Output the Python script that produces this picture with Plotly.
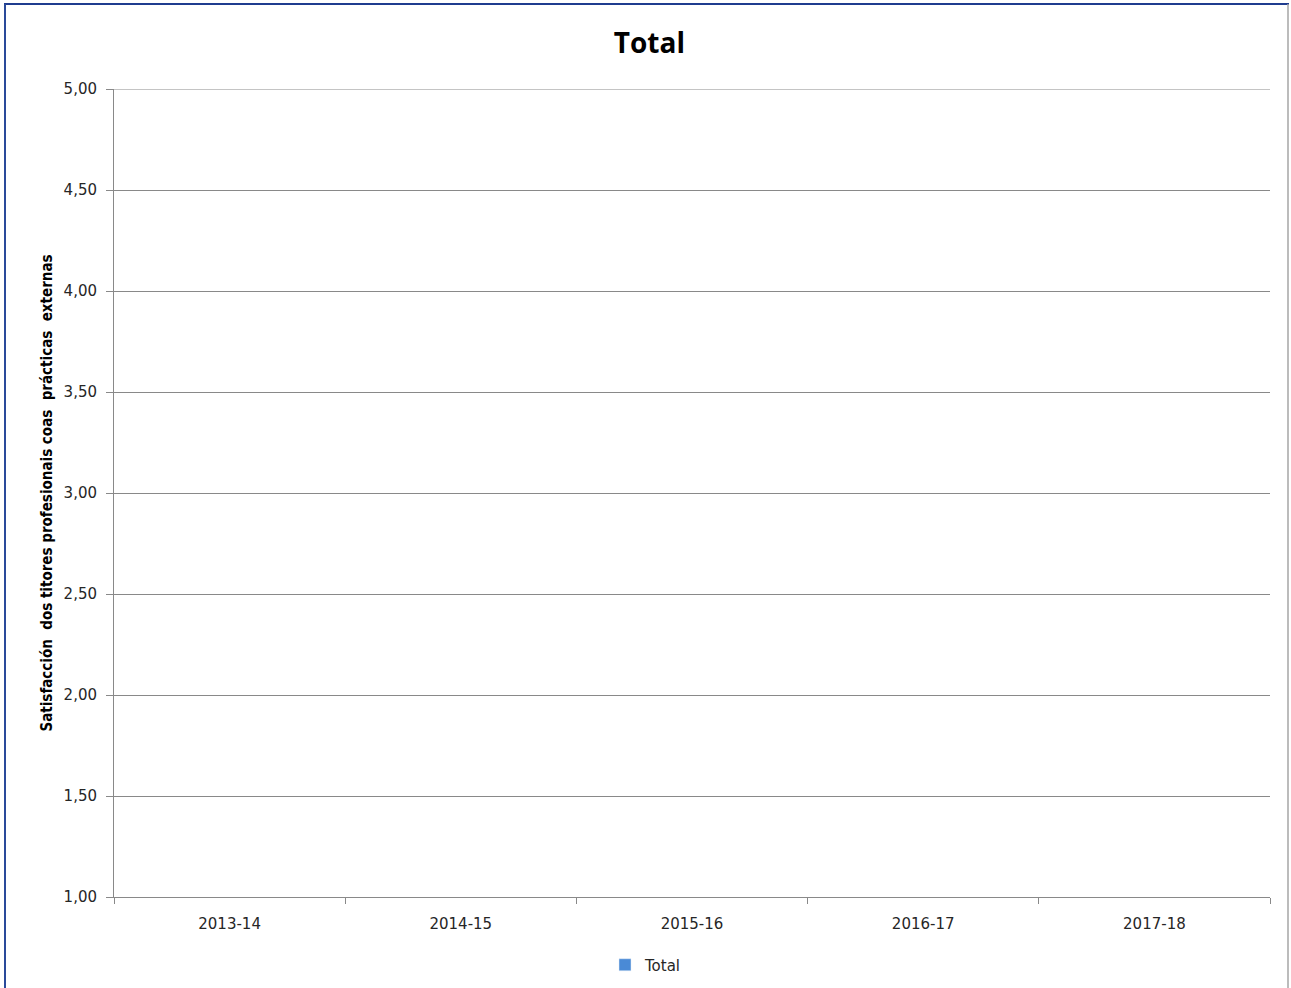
#!/usr/bin/env python
# coding: utf-8

### 라이브러리 호출
import plotly.graph_objects as go

### 데이터 (차트에 막대가 보이지 않음 -> 값 없음)
cursos = ['2013-14', '2014-15', '2015-16', '2016-17', '2017-18']
total = [None, None, None, None, None]
y_ticks = [1.0, 1.5, 2.0, 2.5, 3.0, 3.5, 4.0, 4.5, 5.0]

### 레이아웃 수치 (픽셀)
W, H = 1291, 988
L, R, T, B = 114, 21, 89, 91
pw, ph = W - L - R, H - T - B

def px(x):
    return (x - L) / pw

def py(y):
    return (H - B - y) / ph

grid_col = '#898989'
font_main = 'DejaVu Sans'

trace = go.Bar(x=cursos, y=total, name='Total',
               marker=dict(color='#4a8ad6'),
               showlegend=True)

fig = go.Figure([trace])
fig.update_layout(
    width=W, height=H,
    margin=dict(l=L, r=R, t=T, b=B, autoexpand=False),
    paper_bgcolor='white', plot_bgcolor='white',
    separators=',.',
    title=dict(text='<b>Total</b>', x=0.503, xanchor='center',
               y=1 - 43 / H, yanchor='middle',
               font=dict(family='Open Sans', size=28, color='black')),
    legend=dict(orientation='h', x=px(646), xanchor='center',
                yref='container', y=1 - 965 / H, yanchor='middle',
                font=dict(family=font_main, size=15, color='#262626'),
                itemwidth=30),
    font=dict(family=font_main, size=15, color='#262626'),
)

fig.update_xaxes(type='category', categoryarray=cursos, range=[-0.5, 4.5],
                 showgrid=False, showline=True, linecolor=grid_col, linewidth=1,
                 ticks='outside', tickson='boundaries', ticklen=6,
                 tickcolor=grid_col, tickfont=dict(size=15, color='#262626'),
                 ticklabelstandoff=13)
fig.update_yaxes(range=[1, 5], tickvals=y_ticks, tickformat='.2f',
                 showgrid=True, gridcolor=grid_col, gridwidth=1,
                 showline=True, linecolor=grid_col, linewidth=1,
                 ticks='outside', ticklen=7, tickcolor=grid_col,
                 tickfont=dict(size=15, color='#262626'), zeroline=False,
                 ticklabelstandoff=6,
                 title=dict(text='<b>Satisfacción  dos titores profesionais coas  prácticas  externas</b>',
                            font=dict(family='DejaVu Sans Condensed, DejaVu Sans', size=15, color='black'),
                            standoff=7))

# 5,00 위치의 상단 격자선
fig.add_shape(type='line', xref='paper', yref='y',
              x0=0, x1=1, y0=5, y1=5,
              line=dict(color=grid_col, width=1))

### 차트 테두리
fig.add_shape(type='line', xref='paper', yref='paper',
              x0=px(4), x1=px(1289), y0=py(4), y1=py(4),
              line=dict(color='#1f3c8f', width=2))
fig.add_shape(type='line', xref='paper', yref='paper',
              x0=px(5), x1=px(5), y0=py(4), y1=py(995),
              line=dict(color='#2a4a9a', width=2))
fig.add_shape(type='line', xref='paper', yref='paper',
              x0=px(1288), x1=px(1288), y0=py(4), y1=py(995),
              line=dict(color='#a6a6a6', width=1.5))

# 페이지 기본 여백 제거
fig.write_html("out.html", config={'displayModeBar': False},
               post_script="document.body.style.margin='0';")
